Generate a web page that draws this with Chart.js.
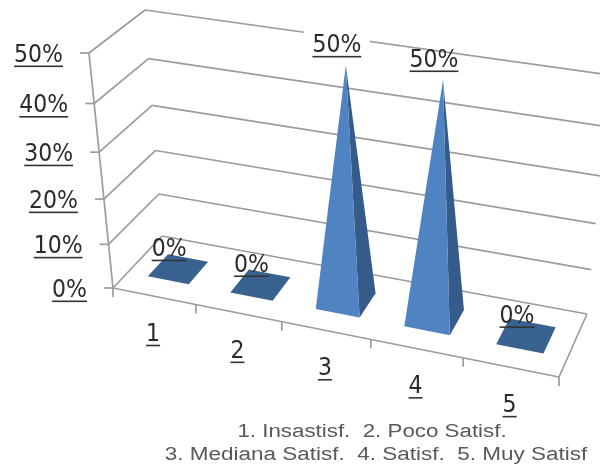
<!DOCTYPE html>
<html>
<head>
<meta charset="utf-8">
<title>Satisfaccion</title>
<script src="https://cdn.jsdelivr.net/npm/chart.js@4/dist/chart.umd.js"></script>
<style>
  html, body { margin: 0; padding: 0; background: #fff; }
  canvas { display: block; }
</style>
</head>
<body>
<canvas id="myChart" width="600" height="466"></canvas>
<script>
const categories = ["1", "2", "3", "4", "5"];
const values = [0, 0, 50, 50, 0];
const yMax = 50;
const yStep = 10;
const captionLines = [
  "1. Insastisf.  2. Poco Satisf.",
  "3. Mediana Satisf.  4. Satisf.  5. Muy Satisf",
];

// corners of the 3d box on screen: f/b = front/back, l/r = left/right
const box = {
  floor: { fl: [113, 288], fr: [559, 377], bl: [162, 236], br: [587, 314] },
  top: { fl: [89, 53], fr: [581, 132], bl: [145, 10], br: [610, 75] },
};
const perspective = 0.095;
const frontDepth = 0.3;
const backDepth = 0.72;

const labelFont = '22px "DejaVu Sans"';
const textColor = "#2b2b2b";
const gridColor = "#9c9c9c";

function warp(t) {
  return t / (1 + perspective * (1 - t));
}

function mix(a, b, t) {
  return [a[0] + (b[0] - a[0]) * t, a[1] + (b[1] - a[1]) * t];
}

// u = along categories, t = along value axis, w = depth, all 0..1
function project(u, t, w) {
  const uu = warp(u);
  const tt = warp(t);
  const bottom = mix(mix(box.floor.fl, box.floor.fr, uu), mix(box.floor.bl, box.floor.br, uu), w);
  const top = mix(mix(box.top.fl, box.top.fr, uu), mix(box.top.bl, box.top.br, uu), w);
  return mix(bottom, top, tt);
}

function uOf(chart, px) {
  const area = chart.chartArea;
  return (px - area.left) / (area.right - area.left);
}

function tOf(chart, py) {
  const area = chart.chartArea;
  return (area.bottom - py) / (area.bottom - area.top);
}

function line(ctx, a, b) {
  ctx.beginPath();
  ctx.moveTo(a[0], a[1]);
  ctx.lineTo(b[0], b[1]);
  ctx.stroke();
}

function poly(ctx, pts, color) {
  ctx.fillStyle = color;
  ctx.beginPath();
  pts.forEach((p, i) => (i ? ctx.lineTo(p[0], p[1]) : ctx.moveTo(p[0], p[1])));
  ctx.closePath();
  ctx.fill();
}

// underlined label, a bit stretched vertically like the original image
function underlined(ctx, text, x, y, align) {
  ctx.save();
  ctx.font = labelFont;
  ctx.textAlign = align;
  ctx.textBaseline = "middle";
  ctx.fillStyle = textColor;
  const width = ctx.measureText(text).width;
  ctx.translate(x, y + 1.5);
  ctx.scale(1, 1.1);
  ctx.fillText(text, 0, 0);
  ctx.restore();
  const left = align === "right" ? x - width : x - width / 2;
  ctx.fillStyle = "#333333";
  ctx.fillRect(left, y + 11.5, width, 1.6);
}

const box3d = {
  id: "box3d",
  beforeDatasetsDraw(chart) {
    const ctx = chart.ctx;
    const x = chart.scales.x;
    const y = chart.scales.y;
    ctx.save();
    ctx.strokeStyle = gridColor;
    ctx.lineWidth = 1.7;

    // gridlines over the side wall and back wall
    y.ticks.forEach((tick) => {
      const t = tOf(chart, y.getPixelForValue(tick.value));
      line(ctx, project(0, t, 0), project(0, t, 1));
      line(ctx, project(0, t, 1), project(1, t, 1));
    });

    // axis, floor edges
    line(ctx, project(0, 0, 0), project(0, 1, 0));
    line(ctx, project(0, 0, 0), project(1, 0, 0));
    line(ctx, project(1, 0, 0), project(1, 0, 1));

    // ticks on value axis + labels
    y.ticks.forEach((tick) => {
      const t = tOf(chart, y.getPixelForValue(tick.value));
      const p = project(0, t, 0);
      line(ctx, [p[0] - 9, p[1]], p);
      underlined(ctx, tick.value + "%", p[0] - 26, p[1] + 1, "right");
    });

    // ticks between categories
    const slot = (x.right - x.left) / categories.length;
    for (let i = 0; i <= categories.length; i++) {
      const p = project(uOf(chart, x.left + slot * i), 0, 0);
      line(ctx, p, [p[0], p[1] + 9]);
    }

    // category labels
    categories.forEach((cat, i) => {
      const p = project(uOf(chart, x.getPixelForValue(i)), 0, 0);
      underlined(ctx, cat, p[0] - 1, p[1] + 37, "center");
    });
    ctx.restore();
  },
  // bars are drawn as pyramids below, not as flat rectangles
  beforeDatasetDraw() {
    return false;
  },
  afterDatasetsDraw(chart) {
    const ctx = chart.ctx;
    const meta = chart.getDatasetMeta(0);
    const data = chart.data.datasets[0].data;

    meta.data.forEach((bar, i) => {
      const u0 = uOf(chart, bar.x - bar.width / 2);
      const u1 = uOf(chart, bar.x + bar.width / 2);
      const uc = uOf(chart, bar.x);
      const t = tOf(chart, bar.y);
      const wc = (frontDepth + backDepth) / 2;
      const fl = project(u0, 0, frontDepth);
      const fr = project(u1, 0, frontDepth);
      const br = project(u1, 0, backDepth);
      const bl = project(u0, 0, backDepth);
      const tip = project(uc, t, wc);

      if (data[i] === 0) {
        poly(ctx, [fl, fr, br, bl], "#3a6291");
      } else {
        poly(ctx, [fr, br, tip], "#355b8a");
        poly(ctx, [fl, fr, tip], "#5083c2");
      }
    });

    meta.data.forEach((bar, i) => {
      const uc = uOf(chart, bar.x);
      const wc = (frontDepth + backDepth) / 2;
      const tip = project(uc, tOf(chart, bar.y), wc);
      const lx = tip[0] - 9;
      const ly = tip[1] - 21;
      // the label over the third pyramid sits on a white box, it cuts the top gridline
      if (i === 2) {
        ctx.fillStyle = "#ffffff";
        ctx.fillRect(lx - 33, ly - 14, 66, 28);
      }
      underlined(ctx, data[i] + "%", lx, ly, "center");
    });

    // caption, wide letters as in the original
    ctx.save();
    ctx.font = '18px "Liberation Sans"';
    ctx.fillStyle = "#595959";
    ctx.textAlign = "center";
    ctx.textBaseline = "middle";
    ctx.save();
    ctx.translate(372, 432);
    ctx.scale(1.24, 1);
    ctx.fillText(captionLines[0], 0, 0);
    ctx.restore();
    ctx.translate(376, 455);
    ctx.scale(1.25, 1);
    ctx.fillText(captionLines[1], 0, 0);
    ctx.restore();
  },
};

const data = {
  labels: categories,
  datasets: [
    {
      label: "Satisfaccion",
      data: values,
      backgroundColor: "#5083c2",
      categoryPercentage: 1,
      barPercentage: 0.5,
    },
  ],
};

const config = {
  type: "bar",
  data: data,
  plugins: [box3d],
  options: {
    responsive: false,
    animation: false,
    layout: { padding: 0 },
    plugins: {
      legend: { display: false },
      tooltip: { enabled: false },
    },
    scales: {
      x: { display: false },
      y: { display: false, min: 0, max: yMax, ticks: { stepSize: yStep } },
    },
  },
};

const myChart = new Chart(document.getElementById("myChart"), config);
</script>
</body>
</html>
